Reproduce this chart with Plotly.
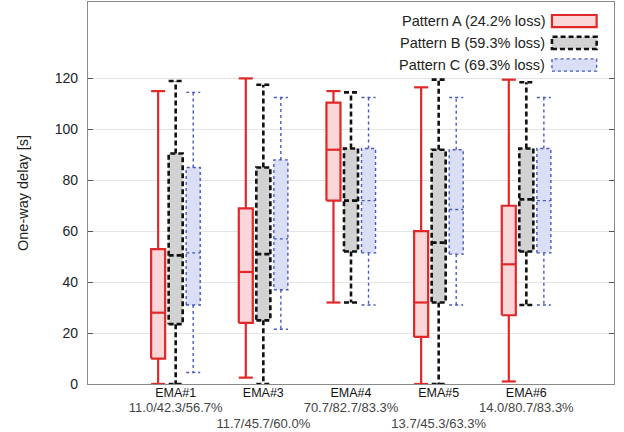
import plotly.graph_objects as go

# ---------------- data ----------------
categories = ["EMA#1", "EMA#3", "EMA#4", "EMA#5", "EMA#6"]
loss_labels = ["11.0/42.3/56.7%", "11.7/45.7/60.0%", "70.7/82.7/83.3%",
               "13.7/45.3/63.3%", "14.0/80.7/83.3%"]

pattern_names = ["Pattern A (24.2% loss)", "Pattern B (59.3% loss)", "Pattern C (69.3% loss)"]

A_min = [0, 2.5, 32, 0, 1]
A_q1 = [10, 24, 72, 18.5, 27]
A_med = [28, 44, 92, 32, 47]
A_q3 = [53, 69, 110.5, 60, 70]
A_max = [115, 120, 115, 116.5, 119.5]

B_min = [0, 0, 32, 0, 31]
B_q1 = [23.5, 25, 52, 32, 52]
B_med = [50.5, 51, 72, 55.5, 72.5]
B_q3 = [90.5, 85, 92.5, 92, 92.5]
B_max = [119, 117.5, 114.5, 119.5, 118.5]

C_min = [4.5, 21.5, 31, 31, 31]
C_q1 = [31, 37, 51.5, 51, 51.5]
C_med = [51.5, 57, 72, 68.5, 72]
C_q3 = [85, 88, 92.5, 92, 92.5]
C_max = [114.5, 112.5, 112.5, 112.5, 112.5]

y_ticks = [0, 20, 40, 60, 80, 100, 120]

# ---------------- styles ----------------
styles = [
    dict(offset=-0.2, line="#e02828", fill="#fad6d8", width=2.2, dash="solid"),
    dict(offset=0.0, line="#111111", fill="#d2d2d2", width=2.6, dash="5px,3px"),
    dict(offset=0.2, line="#4858c0", fill="#dadff6", width=1.4, dash="dot"),
]
stats = [
    (A_min, A_q1, A_med, A_q3, A_max),
    (B_min, B_q1, B_med, B_q3, B_max),
    (C_min, C_q1, C_med, C_q3, C_max),
]
half_w = 0.08

fig = go.Figure()

for st, (mn, q1, md, q3, mx) in zip(styles, stats):
    bx, by = [], []
    lx, ly = [], []
    for i in range(len(categories)):
        c = i + 1 + st["offset"]
        l, r = c - half_w, c + half_w
        bx += [l, r, r, l, l, None]
        by += [q1[i], q1[i], q3[i], q3[i], q1[i], None]
        # median
        lx += [l, r, None]
        ly += [md[i], md[i], None]
        # whiskers
        lx += [c, c, None, c, c, None]
        ly += [q3[i], mx[i], None, q1[i], mn[i], None]
        # caps
        lx += [l, r, None, l, r, None]
        ly += [mx[i], mx[i], None, mn[i], mn[i], None]
    fig.add_trace(go.Scatter(x=bx, y=by, mode="lines", fill="toself",
                             fillcolor=st["fill"],
                             line=dict(color=st["line"], width=st["width"], dash=st["dash"]),
                             showlegend=False, hoverinfo="skip"))
    fig.add_trace(go.Scatter(x=lx, y=ly, mode="lines",
                             line=dict(color=st["line"], width=st["width"], dash=st["dash"]),
                             showlegend=False, hoverinfo="skip"))

# tick labels (alternate rows for loss percentages)
ticktext = []
for i, (cat, loss) in enumerate(zip(categories, loss_labels)):
    pct = f"<span style='color:#444;font-size:13px'>{loss}</span>"
    if i % 2 == 1:
        ticktext.append(f"<span style='font-size:12.5px'>{cat}</span><br> <br>{pct}")
    else:
        ticktext.append(f"<span style='font-size:12.5px'>{cat}</span><br>{pct}")

font_family = "Liberation Sans, Arial, sans-serif"

fig.update_layout(
    width=624, height=432,
    margin=dict(l=88, r=10, t=2, b=48),
    paper_bgcolor="white", plot_bgcolor="white",
    font=dict(family=font_family, size=14, color="#222"),
    showlegend=False,
)
fig.update_xaxes(
    range=[0, 6], tickmode="array", tickvals=[1, 2, 3, 4, 5], ticktext=ticktext,
    tickfont=dict(size=12, color="#111"), tickangle=0,
    showgrid=False, zeroline=False, ticks="",
    showline=True, linecolor="#8a8a8a", linewidth=1.2, mirror=True,
    ticklabelstandoff=-3,
    automargin=False,
)
fig.update_yaxes(
    range=[0, 150], tickmode="array", tickvals=y_ticks,
    tickfont=dict(size=14, color="#222"),
    showgrid=True, gridcolor="#e4e4e4", gridwidth=1, zeroline=False,
    ticks="inside", ticklen=5, tickcolor="#555", tickwidth=1,
    showline=True, linecolor="#8a8a8a", linewidth=1.2, mirror="ticks",
    ticklabelstandoff=6,
    title=dict(text="One-way delay [s]", font=dict(size=14.5, color="#222"), standoff=22),
    automargin=False,
)

# manual legend (text left of swatch)
row_y = [0.950, 0.893, 0.835]
sw_h = 0.016
for name, st, yy in zip(pattern_names, styles, row_y):
    fig.add_annotation(xref="paper", yref="paper", x=0.873, y=yy, text=name,
                       showarrow=False, xanchor="right", yanchor="middle",
                       font=dict(size=14.5, color="#222"))
    fig.add_shape(type="rect", xref="paper", yref="paper",
                  x0=0.882, x1=0.967, y0=yy - sw_h, y1=yy + sw_h,
                  fillcolor=st["fill"],
                  line=dict(color=st["line"], width=st["width"], dash=st["dash"]))

fig.write_html("out.html",
               config={"displayModeBar": False},
               post_script="document.body.style.margin='0';document.body.style.overflow='hidden';")
